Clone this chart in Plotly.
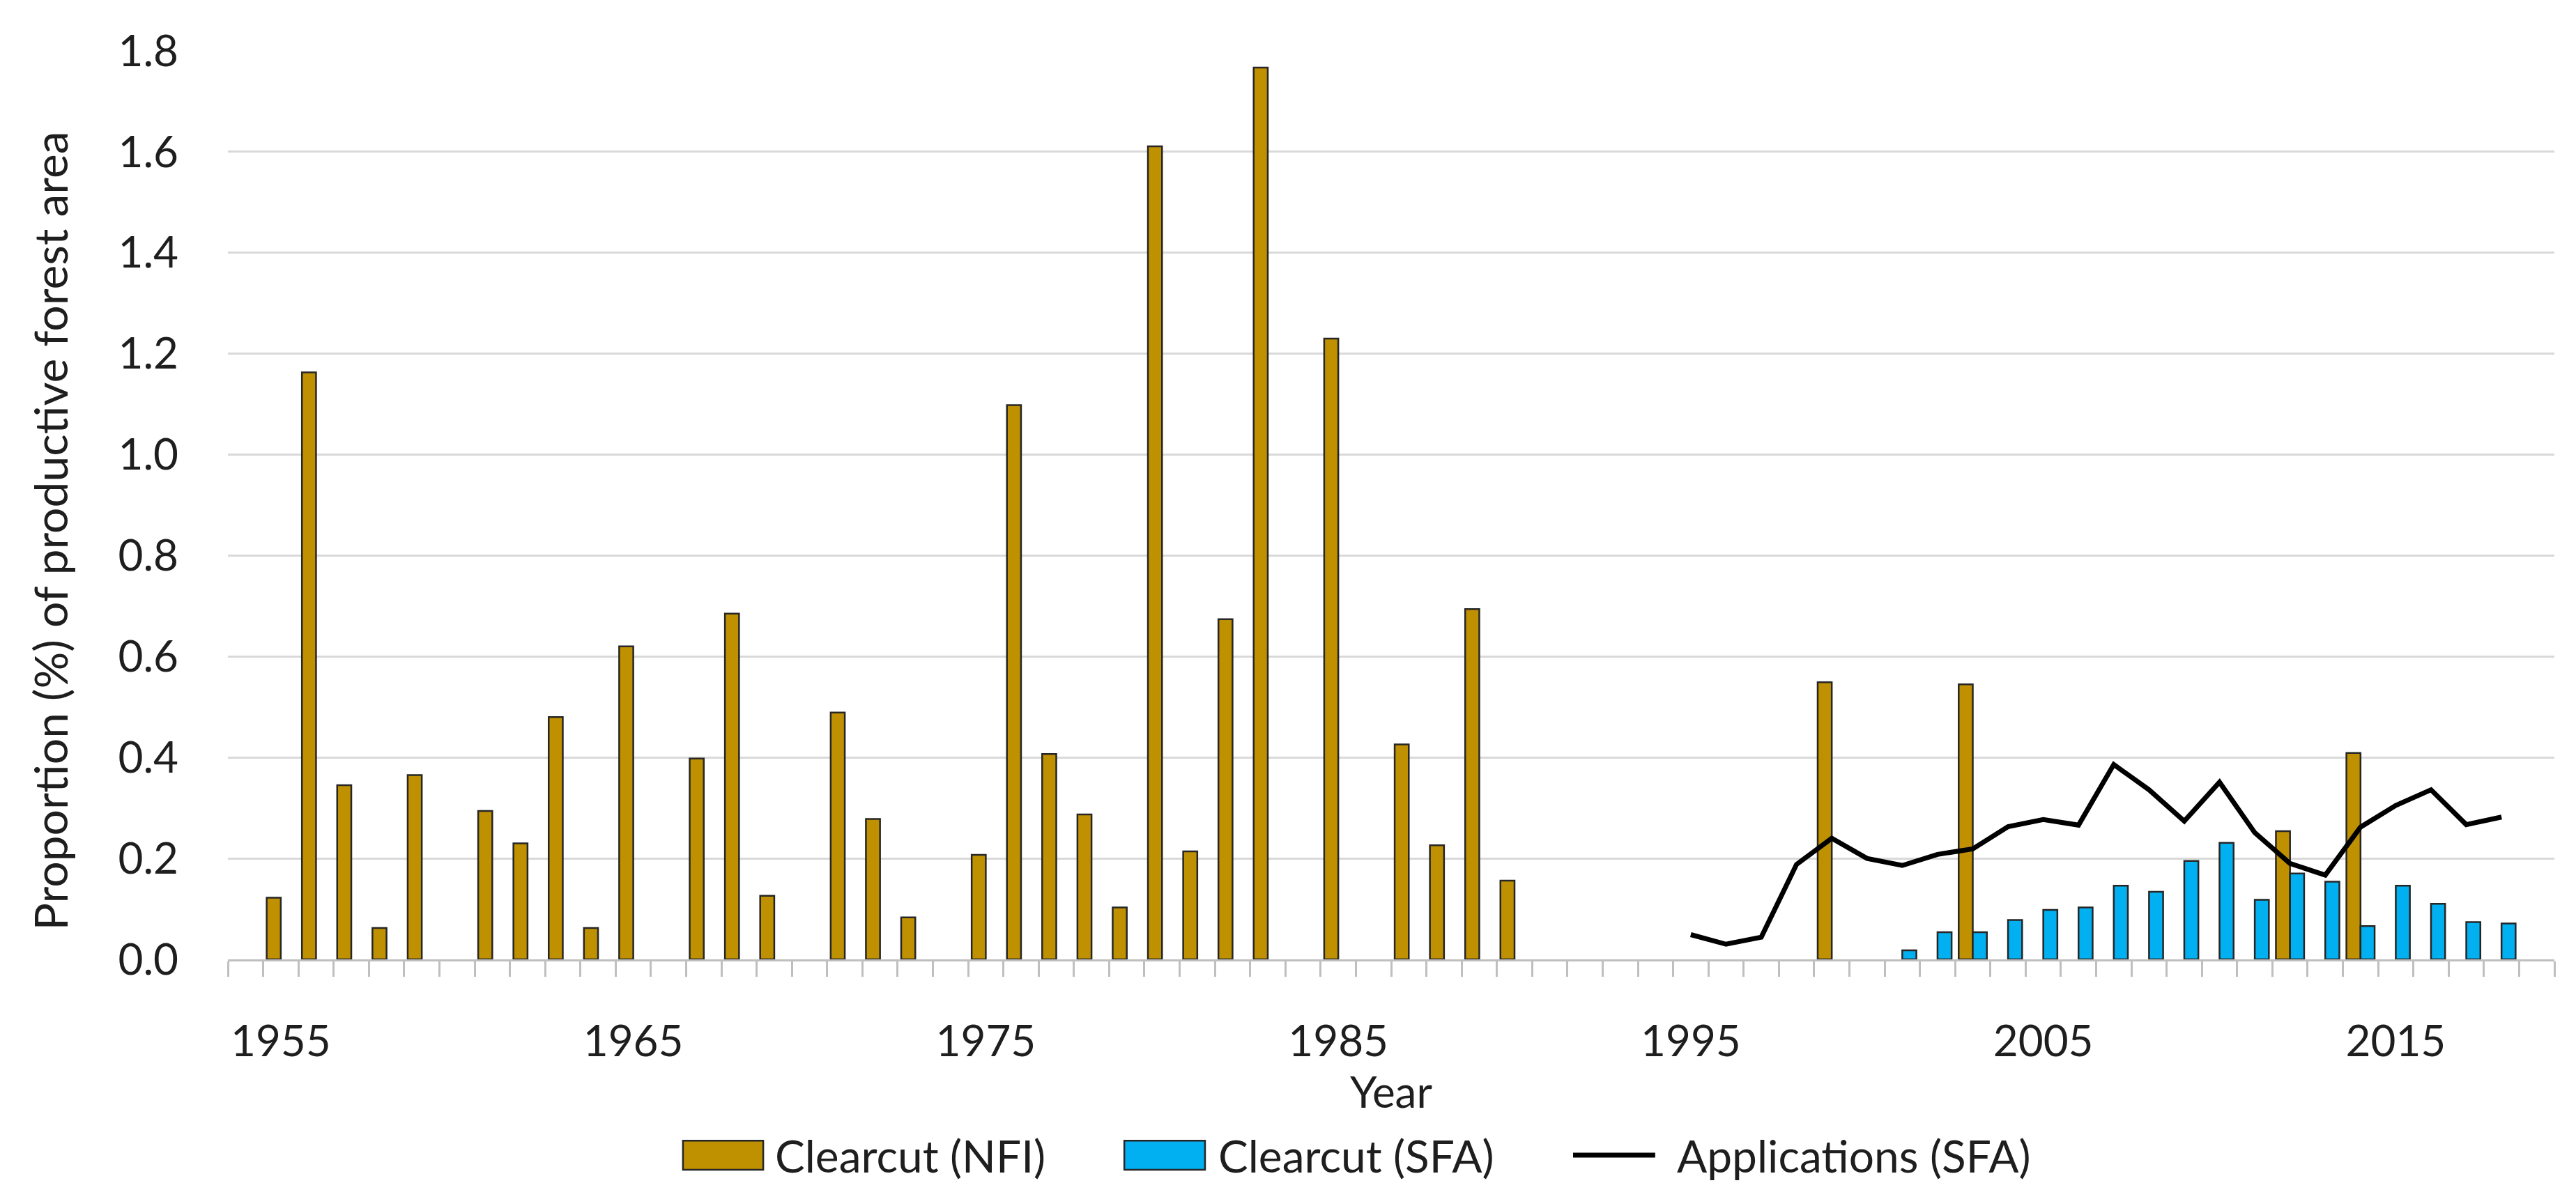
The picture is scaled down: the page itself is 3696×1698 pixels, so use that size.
import plotly.graph_objects as go

# Clearcut share of productive forest area (%)
nfi_years = [1955, 1956, 1957, 1958, 1959, 1961, 1962, 1963, 1964, 1965,
             1967, 1968, 1969, 1971, 1972, 1973, 1975, 1976, 1977, 1978,
             1979, 1980, 1981, 1982, 1983, 1985, 1987, 1988, 1989, 1990,
             1999, 2003, 2012, 2014]
nfi_values = [0.122, 1.163, 0.345, 0.062, 0.365, 0.294, 0.230, 0.480, 0.062, 0.620,
              0.398, 0.685, 0.126, 0.489, 0.278, 0.083, 0.207, 1.098, 0.407, 0.287,
              0.103, 1.611, 0.214, 0.674, 1.767, 1.230, 0.426, 0.226, 0.694, 0.156,
              0.549, 0.545, 0.254, 0.409]

sfa_years = list(range(2001, 2019))
sfa_values = [0.018, 0.054, 0.054, 0.078, 0.098, 0.103, 0.146, 0.134, 0.195,
              0.231, 0.118, 0.170, 0.154, 0.066, 0.146, 0.110, 0.074, 0.071]

app_years = list(range(1995, 2019))
app_values = [0.049, 0.030, 0.044, 0.188, 0.240, 0.200, 0.186, 0.208, 0.219,
              0.263, 0.277, 0.266, 0.386, 0.336, 0.274, 0.351, 0.251, 0.190,
              0.167, 0.262, 0.305, 0.336, 0.267, 0.282]

x_ticks = [1955, 1965, 1975, 1985, 1995, 2005, 2015]
y_ticks = [0.0, 0.2, 0.4, 0.6, 0.8, 1.0, 1.2, 1.4, 1.6, 1.8]

names = ["Clearcut (NFI)", "Clearcut (SFA)", "Applications (SFA)"]
gold = "#BF9000"
blue = "#00B0F0"
txt = "#1E1E1E"
font = "Lato"

fig = go.Figure()
fig.add_trace(go.Bar(x=nfi_years, y=nfi_values, name=names[0],
                     marker=dict(color=gold, line=dict(color="#262626", width=2.5))))
fig.add_trace(go.Bar(x=sfa_years, y=sfa_values, name=names[1],
                     marker=dict(color=blue, line=dict(color="#262626", width=2.5))))
fig.add_trace(go.Scatter(x=app_years, y=app_values, name=names[2], mode="lines",
                         line=dict(color="black", width=7)))

# hand-made legend so the keys have the same proportions as the original
leg_y = -0.2155
fig.add_shape(type="rect", xref="paper", yref="paper", x0=0.1956, x1=0.2301,
              y0=leg_y - 0.016, y1=leg_y + 0.016, fillcolor=gold,
              line=dict(color="#262626", width=2.5))
fig.add_shape(type="rect", xref="paper", yref="paper", x0=0.3853, x1=0.4200,
              y0=leg_y - 0.016, y1=leg_y + 0.016, fillcolor=blue,
              line=dict(color="#262626", width=2.5))
fig.add_shape(type="line", xref="paper", yref="paper", x0=0.5782, x1=0.6135,
              y0=leg_y, y1=leg_y, line=dict(color="black", width=7))
for xpos, label in zip([0.2346, 0.4251, 0.6222], names):
    fig.add_annotation(x=xpos, y=leg_y, xref="paper", yref="paper", text=label,
                       showarrow=False, xanchor="left", yanchor="middle",
                       font=dict(family=font, size=64, color=txt))

# y-axis title sits a little below the middle of the plot, as in the original
fig.add_annotation(x=-0.0764, y=0.472, xref="paper", yref="paper",
                   text="Proportion (%) of productive forest area", textangle=-90,
                   showarrow=False, xanchor="center", yanchor="middle",
                   font=dict(family=font, size=66, color=txt))

fig.update_layout(
    width=3696, height=1698,
    margin=dict(l=319, r=39, t=65, b=329),
    plot_bgcolor="white", paper_bgcolor="white",
    barmode="group", bargap=0.2, bargroupgap=0,
    showlegend=False,
    font=dict(family=font, size=62, color=txt),
    xaxis=dict(
        range=[1953.5, 2019.5], tickmode="array", tickvals=x_ticks,
        ticks="", ticklabelstandoff=62, showgrid=False, zeroline=False,
        showline=True, linecolor="#BFBFBF", linewidth=3,
        minor=dict(tickmode="linear", tick0=1953.5, dtick=1, ticks="outside",
                   ticklen=22, tickwidth=3, tickcolor="#BFBFBF", showgrid=False),
        title=dict(text="Year", font=dict(size=62), standoff=16),
    ),
    yaxis=dict(
        range=[0, 1.8], tickmode="array", tickvals=y_ticks, tickformat=".1f",
        ticks="", ticklabelstandoff=70, showgrid=True, gridcolor="#D9D9D9",
        gridwidth=3, zeroline=False, showline=False,
    ),
)

fig.write_html("out.html")
